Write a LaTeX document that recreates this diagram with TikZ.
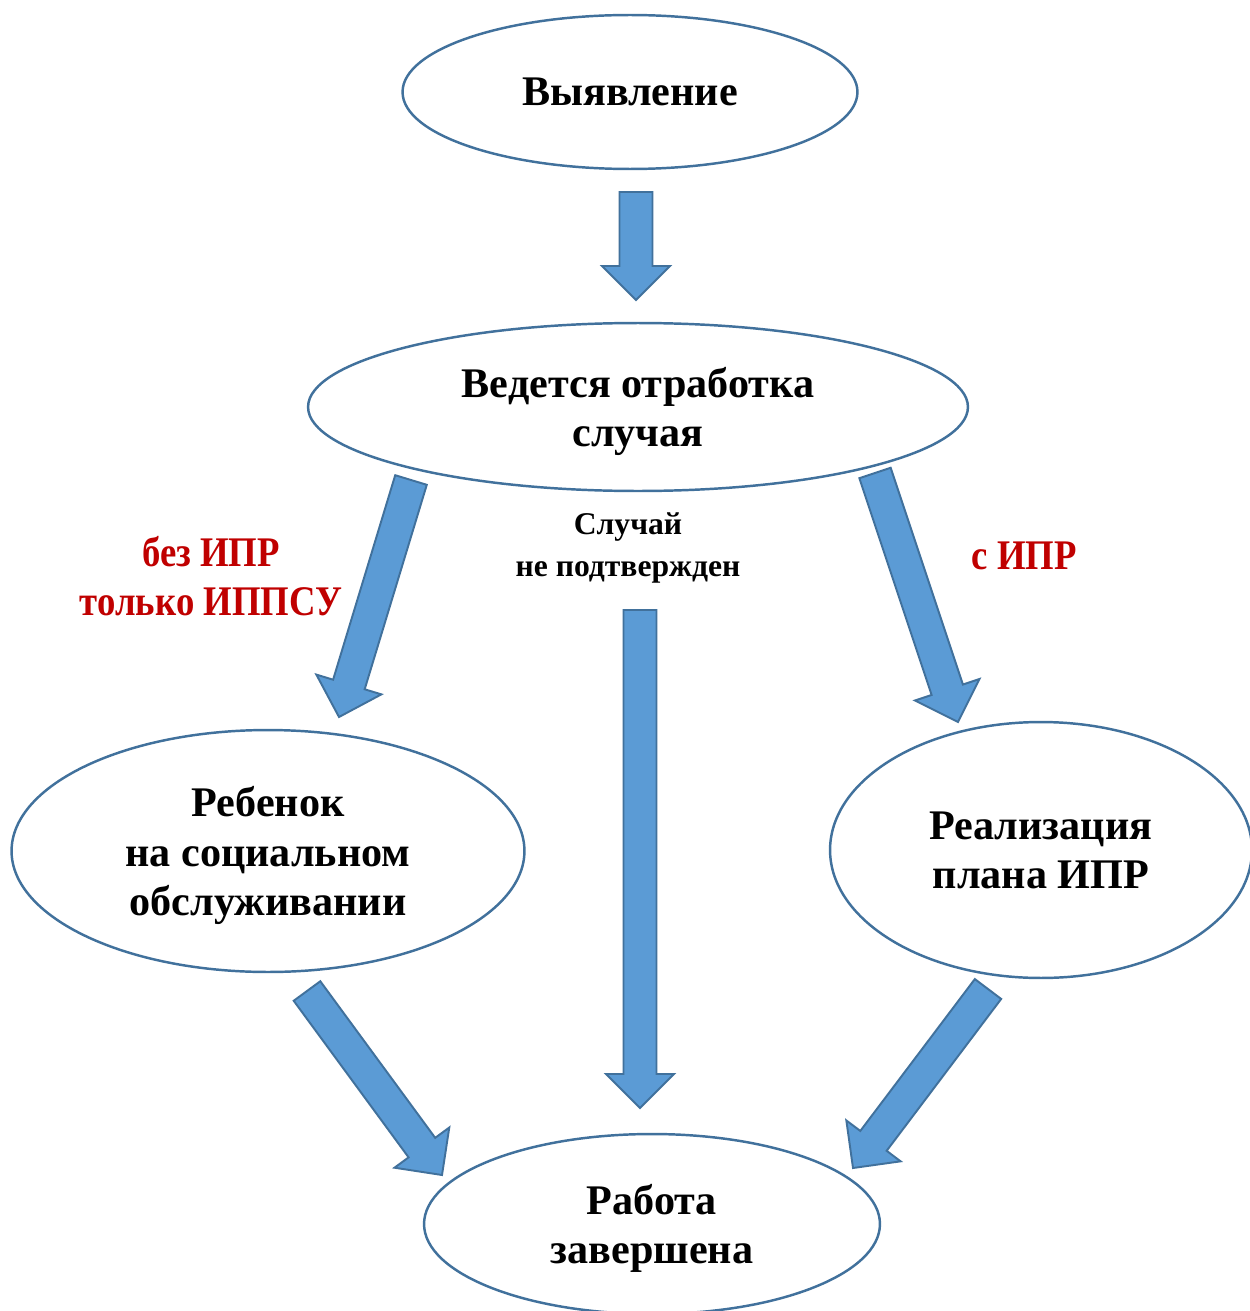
\documentclass[tikz,border=0pt]{standalone}
\usepackage{fontspec}
\setmainfont{Liberation Serif}
\usetikzlibrary{shapes.geometric,calc}
\definecolor{edgeblue}{HTML}{41719C}
\definecolor{fillblue}{HTML}{5B9BD5}
\definecolor{labelred}{HTML}{C00000}
% block arrow from tail #1 to tip #2
\newcommand\fatarrow[2]{%
\draw[arrowbody] ($(#1)!0.33cm!90:(#2)$)--($(#2)!0.68cm!(#1)!0.33cm!-90:(#1)$)
  --($(#2)!0.68cm!(#1)!0.68cm!-90:(#1)$)--(#2)
  --($(#2)!0.68cm!(#1)!0.68cm!90:(#1)$)--($(#2)!0.68cm!(#1)!0.33cm!90:(#1)$)
  --($(#1)!0.33cm!-90:(#2)$)--cycle;}

\begin{document}
\begin{tikzpicture}[x=0.02cm,y=-0.02cm,
  oval/.style={ellipse,draw=edgeblue,line width=1.4pt,fill=white,inner sep=0pt,align=center,text depth=0pt,font=\fontsize{24}{28}\selectfont\bfseries},
  arrowbody/.style={draw=edgeblue,fill=fillblue,line width=1.1pt,line join=miter},
  redlabel/.style={text=labelred,align=center,font=\fontsize{24}{28}\selectfont\bfseries,xscale=0.87,transform shape},
  smalllabel/.style={align=center,font=\fontsize{18}{24}\selectfont\bfseries}]
\clip (0,0) rectangle (1250,1311);
\fill[white] (0,0) rectangle (1250,1311);

\node[oval,minimum width=9.1cm,minimum height=3.08cm] (find) at (630,92) {Выявление};
\node[oval,minimum width=13.2cm,minimum height=3.36cm] (work) at (638,407) {Ведется отработка\\случая};
\node[oval,minimum width=10.26cm,minimum height=4.84cm] (child) at (268,851) {Ребенок\\на социальном\\обслуживании};
\node[oval,minimum width=8.44cm,minimum height=5.12cm] (plan) at (1041,850) {Реализация\\плана ИПР};
\node[oval,minimum width=9.12cm,minimum height=3.6cm] (done) at (652,1224) {Работа\\завершена};

\coordinate (a1s) at (636,192); \coordinate (a1e) at (636,300);
\coordinate (a2s) at (411,480); \coordinate (a2e) at (339,717);
\coordinate (a3s) at (640,610); \coordinate (a3e) at (640,1108);
\coordinate (a4s) at (875,473); \coordinate (a4e) at (958,722);
\coordinate (a5s) at (307,991); \coordinate (a5e) at (442,1175);
\coordinate (a6s) at (988,989); \coordinate (a6e) at (853,1168);
\fatarrow{a1s}{a1e}
\fatarrow{a2s}{a2e}
\fatarrow{a3s}{a3e}
\fatarrow{a4s}{a4e}
\fatarrow{a5s}{a5e}
\fatarrow{a6s}{a6e}

\node[redlabel] (noipr) at (211,576) {без ИПР\\только ИППСУ};
\node[redlabel] (withipr) at (1024,556) {с ИПР};
\node[smalllabel] (notconf) at (628,548) {Случай\\не подтвержден};
\end{tikzpicture}
\end{document}
